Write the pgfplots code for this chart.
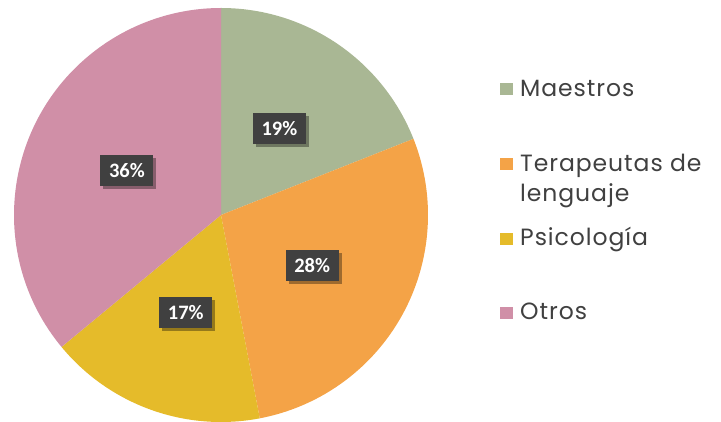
\documentclass[border=0pt]{standalone}
\usepackage{pgfplots}
\pgfplotsset{compat=1.18}
\usepackage{fontspec}
\setmainfont[LetterSpace=4]{Poppins}
\newfontfamily\lblfont{Carlito}
\usetikzlibrary{shadows,calc}
\definecolor{cA}{HTML}{A9B794}
\definecolor{cB}{HTML}{F4A347}
\definecolor{cC}{HTML}{E5BB2A}
\definecolor{cD}{HTML}{D08FA7}
\definecolor{txt}{HTML}{404040}
\definecolor{box}{HTML}{404040}
\tikzset{lbl/.style={fill=box,text=white,font=\lblfont\bfseries\fontsize{20.5bp}{22bp}\selectfont,
  minimum width=53bp,minimum height=31bp,inner sep=0pt,
  drop shadow={shadow xshift=3bp,shadow yshift=-3bp,opacity=0.35,fill=black}}}
% slice: start percent, percent, colour
\newcommand\slice[3]{%
  \pgfmathsetmacro\sa{90-3.6*#1}%
  \pgfmathsetmacro\sb{90-3.6*(#1+#2)}%
  \edef\tmp{\noexpand\fill[#3] (axis cs:221,207) -- ++(\sa:207bp) arc[start angle=\sa, end angle=\sb, radius=207bp] -- cycle;}%
  \tmp}
\newcommand\slicelabel[2]{%
  \pgfmathsetmacro\sm{90-3.6*(#1+#2/2)}%
  \edef\tmp{\noexpand\node[lbl] at ($(axis cs:221,207)+(\sm:104bp)$) {#2\noexpand\%};}%
  \tmp}
\begin{document}
\begin{tikzpicture}
\useasboundingbox (0,0) rectangle (721bp,422bp);
\begin{axis}[scale only axis, width=721bp, height=422bp,
  xmin=0, xmax=721, ymin=0, ymax=422, hide axis, clip=false, anchor=south west, at={(0,0)}]
\slice{0}{19}{cA}
\slice{19}{28}{cB}
\slice{47}{17}{cC}
\slice{64}{36}{cD}
\slicelabel{0}{19}
\slicelabel{19}{28}
\slicelabel{47}{17}
\slicelabel{64}{36}
% legend
\fill[cA] (axis cs:500,327) rectangle (axis cs:513,339);
\fill[cB] (axis cs:500,251.5) rectangle (axis cs:513,263.5);
\fill[cC] (axis cs:500,177) rectangle (axis cs:513,189);
\fill[cD] (axis cs:500,102.5) rectangle (axis cs:513,114.5);
\tikzset{leg/.style={anchor=base west,inner sep=0pt,text=txt,font=\fontsize{23.5bp}{28bp}\selectfont}}
\node[leg] at (axis cs:520,325) {Maestros};
\node[leg] at (axis cs:520,250) {Terapeutas de};
\node[leg] at (axis cs:520,220) {lenguaje};
\node[leg] at (axis cs:520,176) {Psicología};
\node[leg] at (axis cs:520,102) {Otros};
\end{axis}
\end{tikzpicture}
\end{document}
